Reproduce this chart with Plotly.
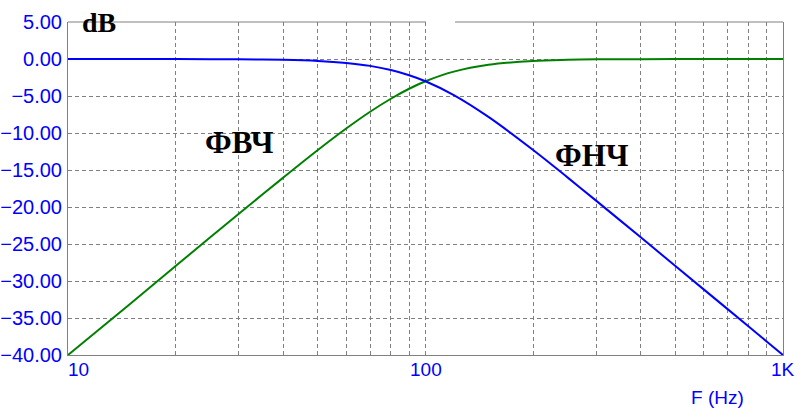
import math
import plotly.graph_objects as go

freq = [10, 15, 20, 25, 30, 40, 50, 60, 70, 80, 90, 100, 120, 150, 200, 250, 300, 400, 500, 600, 700, 800, 900, 1000]
lpf_db = [0.0, 0.0, -0.01, -0.02, -0.04, -0.11, -0.26, -0.53, -0.93, -1.49, -2.19, -3.01, -4.88, -7.83,
          -12.30, -16.03, -19.14, -24.10, -27.97, -31.13, -33.80, -36.12, -38.17, -40.0]
hpf_db = [-40.0, -33.0, -27.97, -24.10, -20.95, -16.03, -12.30, -9.40, -7.13, -5.37, -4.02, -3.01, -1.71, -0.78,
          -0.26, -0.11, -0.05, -0.02, -0.01, 0.0, 0.0, 0.0, 0.0, 0.0]

y_ticks = [5, 0, -5, -10, -15, -20, -25, -30, -35, -40]
x_grid = [20, 30, 40, 50, 60, 70, 80, 90, 100, 200, 300, 400, 500, 600, 700, 800, 900]
x_labels = [(10, "10", "left"), (100, "100", "center"), (1000, "1K", "center")]

blue = "#0000ff"
green = "#008000"
gray = "#808080"
sans = "Liberation Sans, Arial"

W, H = 806, 419
ML, MR, MT, MB = 68, 23, 22, 64
PW, PH = W - ML - MR, H - MT - MB


def px_x(page_x):
    return (page_x - ML) / PW


def px_y(page_y):
    return 1 - (page_y - MT) / PH


fig = go.Figure()
fig.add_trace(go.Scatter(x=freq, y=hpf_db, mode="lines", line=dict(color=green, width=2, shape="spline"),
                         showlegend=False))
fig.add_trace(go.Scatter(x=freq, y=lpf_db, mode="lines", line=dict(color=blue, width=2, shape="spline"),
                         showlegend=False))

fig.update_layout(
    width=W, height=H,
    margin=dict(l=ML, r=MR, t=MT, b=MB),
    paper_bgcolor="white", plot_bgcolor="white",
    font=dict(family=sans, size=20, color=blue),
    xaxis=dict(type="log", range=[1, 3], tickvals=x_grid, ticktext=[""] * len(x_grid), automargin=False,
               showgrid=True, gridcolor=gray, griddash="4px,3px", gridwidth=1,
               showline=True, linecolor=gray, linewidth=1, zeroline=False, ticks=""),
    yaxis=dict(range=[-40, 5], tickvals=y_ticks, tickformat=".2f", automargin=False,
               showgrid=True, gridcolor=gray, griddash="4px,3px", gridwidth=1,
               showline=True, mirror=True, linecolor=gray, linewidth=1, zeroline=False, ticks="",
               ticklabelstandoff=1,
               tickfont=dict(family=sans, size=20, color=blue)),
)

# top border with a gap
fig.add_shape(type="line", xref="paper", yref="paper", x0=0, x1=px_x(426), y0=1, y1=1,
              line=dict(color=gray, width=1))
fig.add_shape(type="line", xref="paper", yref="paper", x0=px_x(455), x1=1, y0=1, y1=1,
              line=dict(color=gray, width=1))

for xv, txt, al in x_labels:
    fig.add_annotation(x=math.log10(xv), y=0, xref="x", yref="paper", text=txt, showarrow=False,
                       xanchor=al, yanchor="top", yshift=-2, xshift=-2 if al == "left" else 0,
                       font=dict(family=sans, size=19, color=blue))

fig.add_annotation(x=px_x(717), y=px_y(397), xref="paper", yref="paper", text="F (Hz)",
                   showarrow=False, xanchor="center", yanchor="middle",
                   font=dict(family=sans, size=19, color=blue))

serif = "Liberation Serif, Times New Roman"
for txt, px, py, sz in [("<b>dB</b>", 99, 22, 28), ("<b>ФВЧ</b>", 239, 142, 31), ("<b>ФНЧ</b>", 592, 155, 31)]:
    fig.add_annotation(x=px_x(px), y=px_y(py), xref="paper", yref="paper", text=txt,
                       showarrow=False, xanchor="center", yanchor="middle",
                       font=dict(family=serif, size=sz, color="black"))

fig.write_html("out.html", config={"displayModeBar": False},
               post_script="document.body.style.margin='0';document.body.style.overflow='hidden';")
